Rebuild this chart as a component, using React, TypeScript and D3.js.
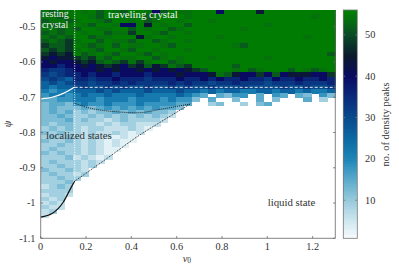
import * as d3 from "d3";
import React from "react";

const WIDTH = 399;
const HEIGHT = 266;

const xTicks = [0, 0.2, 0.4, 0.6, 0.8, 1, 1.2];
const yTicks = [-1.1, -1, -0.9, -0.8, -0.7, -0.6, -0.5];
const cbTicks = [10, 20, 30, 40, 50];

// palette: no. of density peaks -> colour
const paletteValues = [0, 5, 10, 15, 20, 25, 30, 35, 40, 45, 50, 53, 56];
const paletteColors = [
  "#ffffff", "#cfe7ef", "#98cadc", "#5aaacc", "#1c86b8", "#0c68a2", "#0a4a8c",
  "#0a2a7c", "#0a0a62", "#0a1a2c", "#0a4a26", "#066a14", "#008000",
];

// cell codes used in heatRows -> no. of density peaks ("." = no data)
const codeValues: Record<string, number> = {
  "1": 3, "2": 6, "3": 9, "4": 12, "5": 15, "6": 18, "7": 22, "8": 26, "9": 30,
  a: 33, b: 36, c: 40, d: 44, e: 48, f: 51.5, g: 54, h: 55.5,
};

// 37 columns over v0 in [0, 1.3], 55 rows over psi, top row first
const nCols = 37;
const psiTop = -0.4535;
const psiBottom = -1.1;
const heatRows = [
  "gfgghghfhgfhhgcfhgghhhchhhhdhhhhhhhhh",
  "ggfghhgfhhgghfghhhghhhhhhhhhhhhhhhghh",
  "fggfghhgfhhghfghhghhhghhhhhhhhhhhhhhh",
  "gfgghgfhhgcchdhghhfhhhhhhhhhghhhhhhhh",
  "ggfgfhhgghhfhghhfghhhhhhhghhhhhhhhhhh",
  "fgfghghhfggehhgfhhghhhhhhhhhhhhhhhhhh",
  "gfgfhhfgghhhdghhghhhhhghhhhhhhhhhghhh",
  "fgfeghhfhggfhhfghhghhhhhhhhhhhhhhhhhh",
  "effehgfghfhgghhgfhhhhhhhgfhhhhhhhhhhh",
  "fefeghgfhhgfhhghhhghhhhhhhhhhhhhhhhhh",
  "ededhfghgfhhgfhghhhhhhhhhhhhhhhhhhhhf",
  "dcddefegfhgghhfghghhhghhhhhhghhhhhhhh",
  "cdccdedfgfegeghhfghhhhhhhhhhhhhhhhhhh",
  "ccbccdcdedcedfdegfehhhhhfhhhhhhhhhhhh",
  "baabcccdcdccdcdcdcdefhhhghfghhhfhgfgh",
  "a9abbcbccbcccbcccdcccdgfdccecfcdddcce",
  "9a98bbabbcbbbabbbcbbcbcbbcbbacbbcbbcb",
  "8989aa9aababaaaababaa9aabaaa9aaabaaab",
  "87889a99a9a99a99a9a99a999a9999a99a99a",
  "7677888989888988898878788778878878778",
  "677678778777877778765.5466.5.65.54.64",
  "55667776777677767664.5..4..5.4...5.3.",
  "4554676676667666655..34..3.45",
  "454445456565656554.",
  "45453434454545443",
  "44543343434343432",
  "4445343323433332",
  "434433323233222",
  "34343233222321",
  "4343323223212",
  "343432322121",
  "433432321211",
  "33433232121",
  "3433323211",
  "434332321",
  "333423212",
  "34333232",
  "3343323",
  "433432",
  "343323",
  "33433",
  "3334",
  "2343",
  "3333",
  "2332",
  "323",
  "232",
  "322",
  "23",
  "2",
  "",
  "",
  "",
  "",
  "",
];

// phase boundaries (v0, psi)
const restingEdge: [number, number][] = [[0, -0.705], [0.05, -0.7], [0.1, -0.689], [0.15, -0.671]];
const travelOnset: [number, number][] = [
  [0.15, -0.717], [0.2, -0.728], [0.25, -0.735], [0.33, -0.741], [0.43, -0.744], [0.53, -0.734], [0.66, -0.719],
];
const liquidEdge: [number, number][] = [[0.15, -0.938], [0.3, -0.87], [0.43, -0.81], [0.55, -0.762], [0.66, -0.719]];
const localizedEdge: [number, number][] = [[0, -1.04], [0.05, -1.03], [0.1, -0.997], [0.135, -0.955], [0.15, -0.938]];
const restingV0 = 0.15;
const restingPsiEnd = -0.938;
const travelPsi = -0.672;

const FONT = "'Liberation Serif', serif";

export default function App() {
  const left = 40.7, right = 335.3, top = 10.3, bottom = 238.3;
  const x = d3.scaleLinear().domain([0, 1.3]).range([left, right]);
  const y = d3.scaleLinear().domain([psiBottom, psiTop]).range([bottom, top]);
  const color = d3
    .scaleLinear<string>()
    .domain(paletteValues)
    .range(paletteColors)
    .interpolate(d3.interpolateRgb)
    .clamp(true);
  const cbX0 = 343.3, cbX1 = 357.3;
  const cb = d3.scaleLinear().domain([0.8, 56]).range([238.3, 10]);

  const dx = 1.3 / nCols;
  const dy = (psiTop - psiBottom) / heatRows.length;
  const cellW = x(dx) - x(0);
  const cellH = y(psiBottom) - y(psiBottom + dy);

  const cells: JSX.Element[] = [];
  heatRows.forEach((row, r) => {
    row.split("").forEach((ch, i) => {
      const v = codeValues[ch];
      if (v === undefined) return;
      cells.push(
        <rect
          key={`${r}-${i}`}
          x={x(i * dx)}
          y={y(psiTop - r * dy)}
          width={cellW + 0.4}
          height={cellH + 0.4}
          fill={color(v)}
        />
      );
    });
  });

  const cbSteps = d3.range(0.8, 56, 0.4);
  const line = d3
    .line<[number, number]>()
    .x((d) => x(d[0]))
    .y((d) => y(d[1]))
    .curve(d3.curveMonotoneX);
  const tickFmt = (t: number) => String(t);

  return (
    <svg
      width={WIDTH}
      height={HEIGHT}
      style={{ position: "absolute", left: 0, top: 0, background: "#fff" }}
      fontFamily={FONT}
    >
      <g shapeRendering="crispEdges">{cells}</g>

      {/* boundaries */}
      <path d={line(restingEdge) ?? ""} fill="none" stroke="#ffffff" strokeWidth={1.2} />
      <line
        x1={x(restingV0)} x2={x(restingV0)} y1={y(psiTop)} y2={y(restingPsiEnd)}
        stroke="#ffffff" strokeWidth={1} strokeDasharray="1,1.4"
      />
      <line
        x1={x(restingV0)} x2={x(1.3)} y1={y(travelPsi)} y2={y(travelPsi)}
        stroke="#e4e8ec" strokeWidth={1} strokeDasharray="3,2"
      />
      <path d={line(travelOnset) ?? ""} fill="none" stroke="#222" strokeWidth={1} strokeDasharray="1,1" />
      <path d={line(liquidEdge) ?? ""} fill="none" stroke="#222" strokeWidth={1} strokeDasharray="1,1" />
      <path d={line(localizedEdge) ?? ""} fill="none" stroke="#111" strokeWidth={1.2} />

      {/* frame */}
      <g stroke="#666" strokeWidth={0.8} fill="none">
        <line x1={left} x2={left} y1={top} y2={bottom} />
        <line x1={left} x2={right} y1={bottom} y2={bottom} />
        <line x1={right} x2={right} y1={top} y2={bottom} />
        {xTicks.map((t) => (
          <line key={`xt${t}`} x1={x(t)} x2={x(t)} y1={bottom} y2={bottom - 2.2} />
        ))}
        {yTicks.map((t) => (
          <g key={`yt${t}`}>
            <line x1={left} x2={left + 2.2} y1={y(t)} y2={y(t)} />
            <line x1={right} x2={right - 2.2} y1={y(t)} y2={y(t)} />
          </g>
        ))}
      </g>

      {/* tick labels */}
      <g fontSize={10.3} fill="#333">
        {xTicks.map((t) => (
          <text key={`xl${t}`} x={x(t)} y={250} textAnchor="middle">{tickFmt(t)}</text>
        ))}
        {yTicks.map((t) => (
          <text key={`yl${t}`} x={35.5} y={y(t) + 3.4} textAnchor="end">{tickFmt(t)}</text>
        ))}
      </g>

      {/* axis labels */}
      <text transform="translate(11,124) rotate(-90)" fontSize={10.5} fontStyle="italic" fill="#333" textAnchor="middle">ψ</text>
      <text x={182.7} y={261.5} fontSize={10.5} fontStyle="italic" fill="#333">
        v<tspan fontSize={7.5} fontStyle="normal" dy={1.5}>0</tspan>
      </text>

      {/* region labels */}
      <g fontSize={10.8}>
        <text x={42} y={17} fontSize={9.8} fill="#f2f2f2">resting</text>
        <text x={42} y={28} fontSize={9.8} fill="#f2f2f2">crystal</text>
        <text x={108} y={17.5} fill="#f2f2f2">traveling crystal</text>
        <text x={46} y={138.5} fill="#333">localized states</text>
        <text x={267.7} y={205.5} fill="#333">liquid state</text>
      </g>

      {/* colour bar */}
      <g shapeRendering="crispEdges">
        {cbSteps.map((v) => (
          <rect
            key={`cb${v}`}
            x={cbX0}
            y={cb(Math.min(v + 0.4, 56))}
            width={cbX1 - cbX0}
            height={cb(v) - cb(Math.min(v + 0.4, 56)) + 0.3}
            fill={color(v + 0.2)}
          />
        ))}
      </g>
      <rect x={cbX0} y={10} width={cbX1 - cbX0} height={228.3} fill="none" stroke="#777" strokeWidth={0.8} />
      <g stroke="#777" strokeWidth={0.8}>
        {cbTicks.map((t) => (
          <g key={`cbt${t}`}>
            <line x1={cbX0} x2={cbX0 + 2} y1={cb(t)} y2={cb(t)} />
            <line x1={cbX1} x2={cbX1 - 2} y1={cb(t)} y2={cb(t)} />
          </g>
        ))}
      </g>
      <g fontSize={10.3} fill="#333">
        {cbTicks.map((t) => (
          <text key={`cbl${t}`} x={365} y={cb(t) + 3.4}>{t}</text>
        ))}
      </g>
      <text transform="translate(389,124.5) rotate(-90)" fontSize={10.5} fill="#333" textAnchor="middle">
        no. of density peaks
      </text>
    </svg>
  );
}
